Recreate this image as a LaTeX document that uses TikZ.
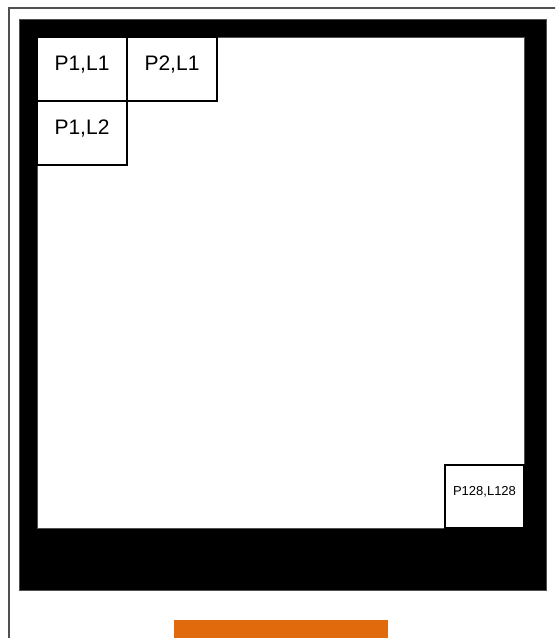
\documentclass[tikz,border=0pt]{standalone}
\usepackage{fontspec}
\setmainfont{Liberation Sans}
\usepackage{xcolor}
\usetikzlibrary{positioning}

\definecolor{barorange}{RGB}{225,106,12}
\definecolor{edgegray}{RGB}{80,80,80}

\begin{document}
\begin{tikzpicture}[x=1pt, y=-1pt,
  cell/.style={draw, line width=1.3pt, inner sep=0pt, outer sep=0pt, minimum width=90pt, minimum height=64pt, text height=33pt, text depth=31pt, font=\fontsize{21}{25}\selectfont},
  smallcell/.style={cell, minimum width=79pt, minimum height=63pt, text height=30pt, text depth=33pt, font=\fontsize{13}{16}\selectfont}
]
\useasboundingbox (0,0) rectangle (555,638);
\clip (0,0) rectangle (555,638);
\fill[white] (0,0) rectangle (555,638);
% outer border, open to the right and below
\draw[edgegray, line width=1.2pt] (9,645) -- (9,8) -- (560,8);
% display frame and screen
\draw[edgegray, fill=black, line width=1pt] (19,19) rectangle (546,590);
\draw[edgegray, fill=white, line width=1pt] (37,37) rectangle (524,528);

\node[cell, anchor=north west] at (37,37) (p1l1) {P1,L1};
\node[cell, right=0pt of p1l1] (p2l1) {P2,L1};
\node[cell, below=0pt of p1l1] (p1l2) {P1,L2};
\node[smallcell, anchor=south east] at (524,528) (p128l128) {P128,L128};

% connector strip
\fill[barorange] (174,620) rectangle (388,640);
\end{tikzpicture}
\end{document}
